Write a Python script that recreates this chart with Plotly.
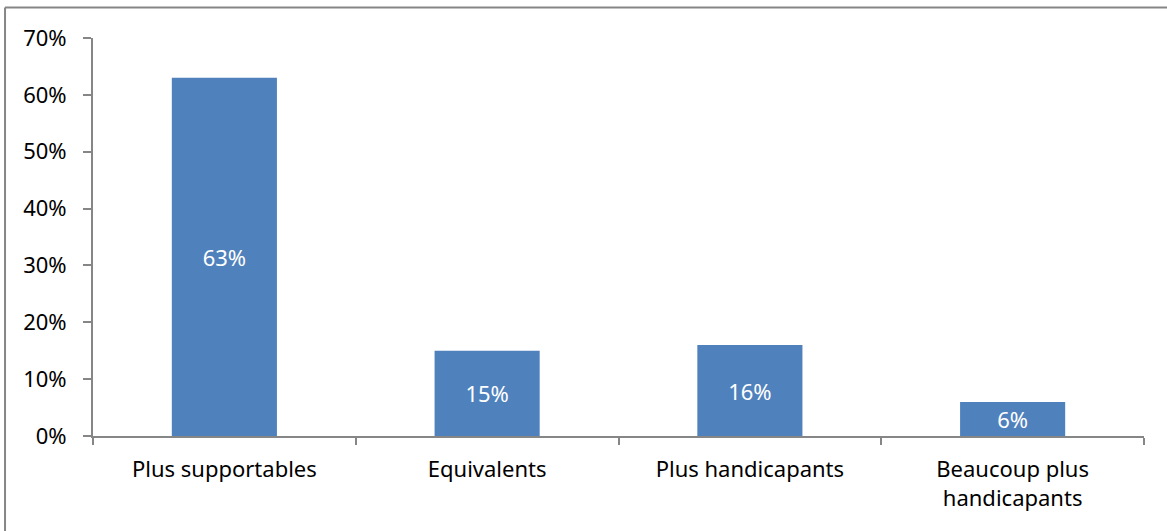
import plotly.graph_objects as go

categories = ["Plus supportables", "Equivalents", "Plus handicapants", "Beaucoup plus<br>handicapants"]
values = [0.63, 0.15, 0.16, 0.06]

bar_color = "#4F81BD"
axis_color = "#868686"
font_family = "Noto Sans, Open Sans, sans-serif"
font_size = 22

fig = go.Figure(
    go.Bar(
        x=categories,
        y=values,
        marker=dict(color=bar_color, line=dict(width=0)),
        width=0.4,
        text=values,
        texttemplate="%{text:.0%}",
        textposition="inside",
        insidetextanchor="middle",
        textfont=dict(color="white", size=font_size, family=font_family),
        textangle=0,
        hoverinfo="skip",
    )
)

fig.update_layout(
    width=1167,
    height=531,
    margin=dict(l=93, r=23, t=38, b=95),
    paper_bgcolor="white",
    plot_bgcolor="white",
    showlegend=False,
    font=dict(family=font_family, size=font_size, color="black"),
    uniformtext=dict(minsize=font_size, mode="show"),
    shapes=[
        # chart frame (top and left edges)
        dict(type="line", xref="paper", yref="paper", x0=-0.0837, x1=1.05, y0=1.0768, y1=1.0768,
             line=dict(color=axis_color, width=2)),
        dict(type="line", xref="paper", yref="paper", x0=-0.0837, x1=-0.0837, y0=-0.3, y1=1.0768,
             line=dict(color=axis_color, width=2)),
    ],
)

fig.update_xaxes(
    type="category",
    showline=True,
    linecolor=axis_color,
    linewidth=2,
    ticks="outside",
    tickson="boundaries",
    ticklen=7,
    tickwidth=2,
    tickcolor=axis_color,
    showgrid=False,
    ticklabelstandoff=13,
    tickfont=dict(size=font_size, family=font_family, color="black"),
)

fig.update_yaxes(
    range=[0, 0.7],
    dtick=0.1,
    tickformat=".0%",
    showline=True,
    linecolor=axis_color,
    linewidth=2,
    ticks="outside",
    ticklen=8,
    tickwidth=2,
    tickcolor=axis_color,
    showgrid=False,
    zeroline=False,
    ticklabelstandoff=12,
    tickfont=dict(size=font_size, family=font_family, color="black"),
)

fig.write_html("out.html")
